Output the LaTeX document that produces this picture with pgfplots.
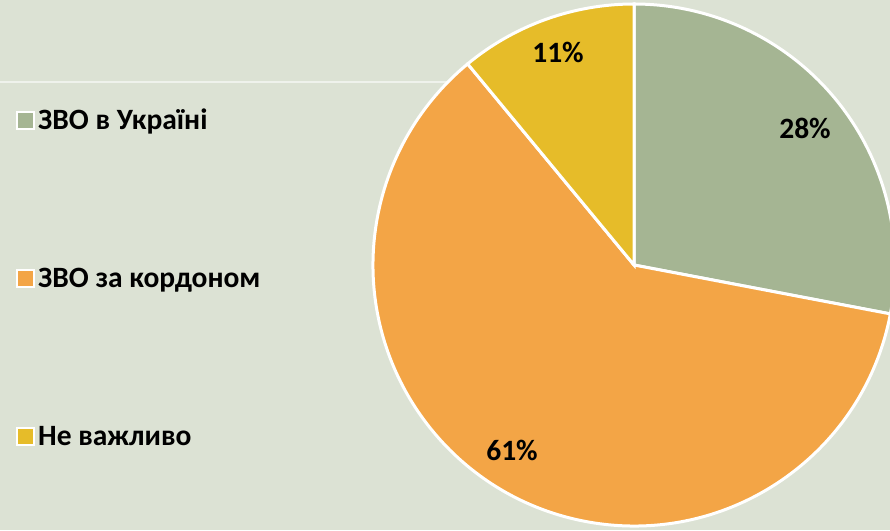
\documentclass[border=0pt]{standalone}
\usepackage{fontspec}
\setmainfont{Carlito}
\usepackage{pgfplots}
\pgfplotsset{compat=1.18}
\definecolor{bgc}{HTML}{DCE2D4}
\definecolor{sgreen}{HTML}{A5B593}
\definecolor{sorange}{HTML}{F3A546}
\definecolor{syellow}{HTML}{E6BC29}
\begin{document}
\begin{tikzpicture}
\begin{axis}[
    x=1pt, y=1pt,
    xmin=0, xmax=890, ymin=0, ymax=530,
    hide axis,
    axis background/.style={fill=bgc},
    legend image code/.code={\draw[#1, draw=white, line width=2pt] (0pt,-8.5pt) rectangle (17pt,8.5pt);},
    legend style={draw=none, fill=none, at={(axis cs:13,426)}, anchor=north west,
        font=\fontsize{29.5}{32}\selectfont\bfseries, row sep=131pt,
        nodes={inner sep=3pt, anchor=west}},
    legend cell align=left,
]
\addlegendimage{fill=sgreen}
\addlegendentry{ЗВО в Україні}
\addlegendimage{fill=sorange}
\addlegendentry{ЗВО за кордоном}
\addlegendimage{fill=syellow}
\addlegendentry{Не важливо}

\draw[white!55!bgc, line width=1.5pt] (axis cs:0,448) -- (axis cs:480,448);

% slices: 28, 61, 11 percent, clockwise from the top
\fill[sgreen, draw=white, line width=3pt] (axis cs:634,265) -- ++(90:261pt)
    arc[start angle=90, end angle={90-3.6*28}, radius=261pt] -- cycle;
\fill[sorange, draw=white, line width=3pt] (axis cs:634,265) -- ++({90-3.6*28}:261pt)
    arc[start angle={90-3.6*28}, end angle={90-3.6*89}, radius=261pt] -- cycle;
\fill[syellow, draw=white, line width=3pt] (axis cs:634,265) -- ++({90-3.6*89}:261pt)
    arc[start angle={90-3.6*89}, end angle={90-3.6*100}, radius=261pt] -- cycle;

\node[font=\fontsize{29.5}{32}\selectfont\bfseries] at (axis cs:805,402) {28\%};
\node[font=\fontsize{29.5}{32}\selectfont\bfseries] at (axis cs:512,80) {61\%};
\node[font=\fontsize{29.5}{32}\selectfont\bfseries] at (axis cs:558,478) {11\%};
\end{axis}
\pgfresetboundingbox
\path[use as bounding box] (current axis.south west) rectangle (current axis.north east);
\end{tikzpicture}
\end{document}
